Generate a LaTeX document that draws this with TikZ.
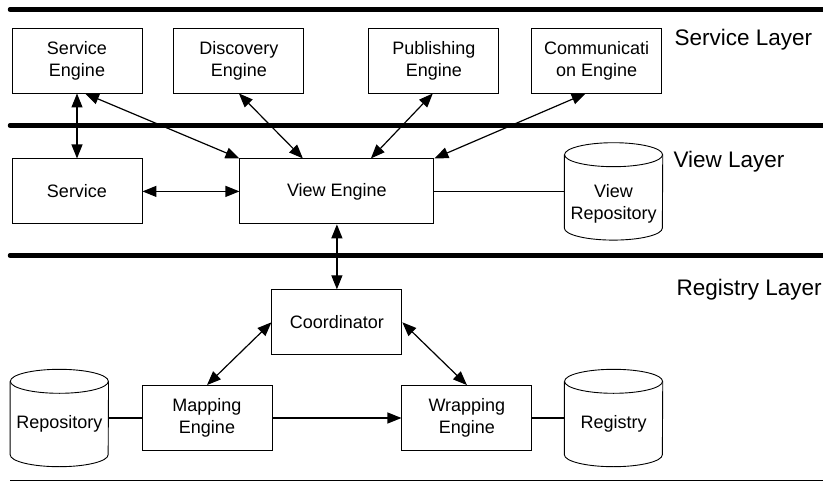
\documentclass[tikz,border=0pt]{standalone}
\usepackage{fontspec}
\setmainfont{Liberation Sans}
\usetikzlibrary{arrows.meta, positioning}

\begin{document}
\begin{tikzpicture}[
    x=1pt, y=-1pt,
    every node/.style={align=center, font=\fontsize{18}{22}\selectfont},
    box/.style={rectangle, draw, line width=0.9pt, minimum width=130pt, minimum height=65pt, inner sep=0pt},
    drum/.style={rectangle, minimum width=98pt, minimum height=97pt, inner sep=0pt},
    layer/.style={line width=4.5pt, line cap=round},
    layername/.style={anchor=base west, font=\fontsize{22.5}{27}\selectfont},
    link/.style={line width=1.2pt},
    arrow/.style={link, -{Triangle[length=14pt, width=11pt]}},
    biarrow/.style={link, {Triangle[length=14pt, width=11pt]}-{Triangle[length=14pt, width=11pt]}}
]
\useasboundingbox (0,0) rectangle (823,482);

% Layers
\draw[layer] (10,9.5) -- (830,9.5);
\draw[layer] (10,125.5) -- (830,125.5);
\draw[layer] (10,255.5) -- (830,255.5);
\draw[line width=1.5pt] (10,480.5) -- (830,480.5);

\node[layername] (servicelayer) at (671,45) {Service Layer};
\node[layername] (viewlayer) at (670,167) {View Layer};
\node[layername] (registrylayer) at (673,295) {Registry Layer};

% Nodes
\node[box] (seng) at (77,60.5) {Service\\Engine};
\node[box, right=31pt of seng] (disc) {Discovery\\Engine};
\node[box, right=64pt of disc] (pub) {Publishing\\Engine};
\node[box, right=32pt of pub] (comm) {Communicati\\on Engine};
\node[box, below=65pt of seng] (service) {Service};
\node[box, minimum width=194pt, right=97pt of service] (view) {View Engine};
\node[drum, right=130pt of view] (viewrepo) {};
\node[box, below=65pt of view] (coord) {Coordinator};
\node[box] (mapping) at (207,418) {Mapping\\Engine};
\node[box, right=129pt of mapping] (wrapping) {Wrapping\\Engine};
\node[drum, left=33pt of mapping] (repo) {};
\node[drum, right=32pt of wrapping] (registry) {};

% Cylinders
\foreach \d in {viewrepo, repo, registry}{
  \draw[line width=0.9pt] ([yshift=-12pt]\d.north west) -- ([yshift=12pt]\d.south west)
      arc[start angle=180, end angle=360, x radius=49pt, y radius=12pt]
      -- ([yshift=-12pt]\d.north east);
  \draw[line width=0.9pt] ([yshift=-12pt]\d.north) ellipse [x radius=49pt, y radius=12pt];
}
\node (viewrepo-text) at ([yshift=-12pt]viewrepo.center) {View\\Repository};
\node (repo-text) at ([yshift=-5.5pt]repo.center) {Repository};
\node (registry-text) at ([yshift=-5.5pt]registry.center) {Registry};

% Arrows
\draw[biarrow] (seng) -- (service);
\draw[biarrow] ([xshift=8pt]seng.south) -- (view.north west);
\draw[biarrow] (disc.south) -- ([xshift=-34pt]view.north);
\draw[biarrow] ([xshift=-1pt]pub.south) -- ([xshift=34pt]view.north);
\draw[biarrow] ([xshift=-11pt]comm.south) -- (view.north east);
\draw[biarrow] (service) -- (view);
\draw[link] (view.east) -- (view.east -| viewrepo.west);
\draw[biarrow] (view) -- (coord);
\draw[biarrow] (coord.west) -- (mapping.north);
\draw[biarrow] (coord.east) -- (wrapping.north);
\draw[arrow] (mapping) -- (wrapping);
\draw[link] (repo.east) -- (mapping.west);
\draw[link] (wrapping) -- (registry);

\end{tikzpicture}
\end{document}
